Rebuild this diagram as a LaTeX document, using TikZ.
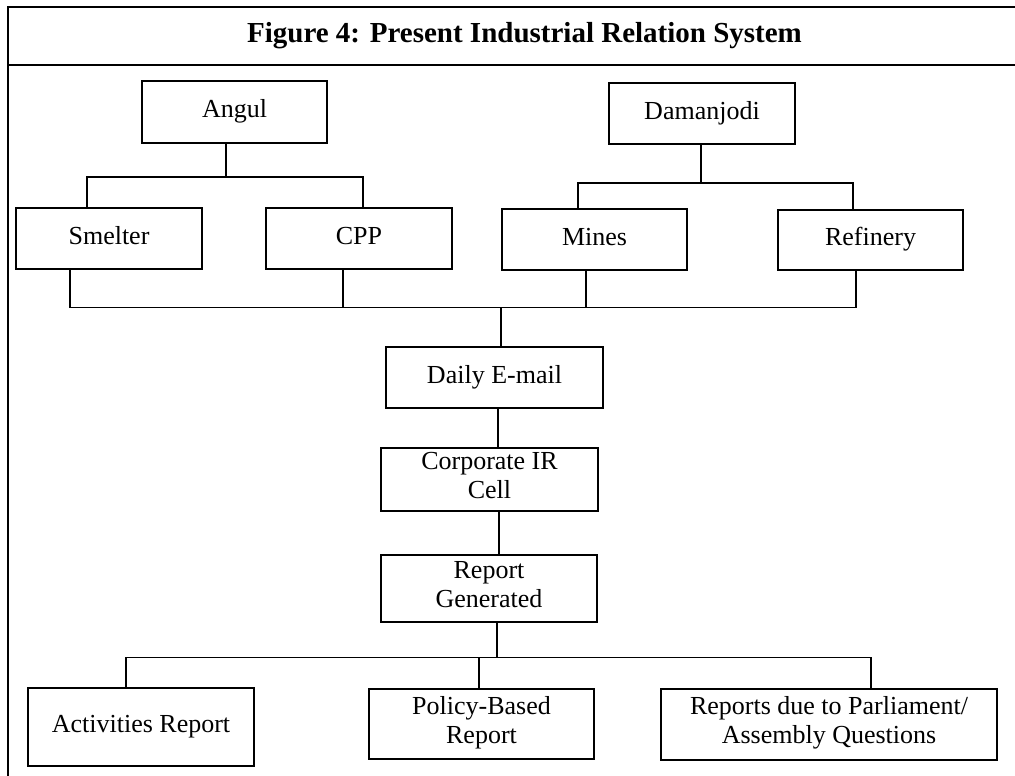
\documentclass[tikz,border=0pt]{standalone}
\usepackage{fontspec}
\setmainfont{Liberation Serif}
\begin{document}
\begin{tikzpicture}[x=1pt,y=-1pt,
  line/.style={line width=1.5pt, line join=miter},
  box/.style={draw, line width=1.5pt, align=center, inner sep=0pt,
    font=\fontsize{26}{29}\selectfont,
    execute at begin node=\strut, execute at end node=\strut},
]
\useasboundingbox (0,0) rectangle (1015,776);
% frame
\coordinate (ftl) at (8,7);
\coordinate (ftr) at (1015,7);
\coordinate (fml) at (8,65);
\coordinate (fmr) at (1015,65);
\coordinate (fbl) at (8,776);
\draw[line] (ftr) -- (ftl) -- (fbl);
\draw[line] (fml) -- (fmr);
\node[font=\fontsize{29}{32}\selectfont\bfseries] (title) at (524.5,36) {Figure 4: Present Industrial Relation System};

% boxes
\node[box, minimum width=185pt, minimum height=62pt] (angul) at (234.5,112) {Angul};
\node[box, minimum width=186pt, minimum height=61pt] (daman) at (702,113.5) {Damanjodi};
\node[box, minimum width=186pt, minimum height=61pt] (smelter) at (109,238.5) {Smelter};
\node[box, minimum width=186pt, minimum height=61pt] (cpp) at (359,238.5) {CPP};
\node[box, minimum width=185pt, minimum height=61pt] (mines) at (594.5,239.5) {Mines};
\node[box, minimum width=185pt, minimum height=60pt] (refinery) at (870.5,240) {Refinery};
\node[box, minimum width=217pt, minimum height=61pt] (daily) at (494.5,377.5) {Daily E-mail};
\node[box, minimum width=217pt, minimum height=63pt] (corp) at (489.5,479.5) {Corporate IR\\Cell};
\node[box, minimum width=216pt, minimum height=67pt] (repgen) at (489,588.5) {Report\\Generated};
\node[box, minimum width=226pt, minimum height=78pt] (act) at (141,727) {Activities Report};
\node[box, minimum width=225pt, minimum height=70pt] (policy) at (481.5,724) {Policy-Based\\Report};
\node[box, minimum width=336pt, minimum height=71pt] (parl) at (829,724.5) {Reports due to Parliament/\\Assembly Questions};

% Angul bus
\coordinate (a0) at (226,177);
\coordinate (al) at (87,177);
\coordinate (ar) at (363,177);
\draw[line] (a0 |- angul.south) -- (a0);
\draw[line] (al |- smelter.north) -- (al) -- (ar) -- (ar |- cpp.north);

% Damanjodi bus
\coordinate (d0) at (701,183);
\coordinate (dl) at (578,183);
\coordinate (dr) at (853,183);
\draw[line] (d0 |- daman.south) -- (d0);
\draw[line] (dl |- mines.north) -- (dl) -- (dr) -- (dr |- refinery.north);

% collecting bus
\coordinate (c1) at (70,307.5);
\coordinate (c2) at (343,307.5);
\coordinate (c3) at (586,307.5);
\coordinate (c4) at (856,307.5);
\coordinate (c0) at (501,307.5);
\draw[line] (c1 |- smelter.south) -- (c1) -- (c4) -- (c4 |- refinery.south);
\draw[line] (c2 |- cpp.south) -- (c2);
\draw[line] (c3 |- mines.south) -- (c3);
\draw[line] (c0) -- (c0 |- daily.north);

% chain
\coordinate (k1) at (498,0);
\draw[line] (k1 |- daily.south) -- (k1 |- corp.north);
\coordinate (k2) at (499,0);
\draw[line] (k2 |- corp.south) -- (k2 |- repgen.north);

% bottom bus
\coordinate (e0) at (497,657.5);
\coordinate (e1) at (126,657.5);
\coordinate (e2) at (479,657.5);
\coordinate (e3) at (871,657.5);
\draw[line] (e0 |- repgen.south) -- (e0);
\draw[line] (e1 |- act.north) -- (e1) -- (e3) -- (e3 |- parl.north);
\draw[line] (e2) -- (e2 |- policy.north);
\end{tikzpicture}
\end{document}
